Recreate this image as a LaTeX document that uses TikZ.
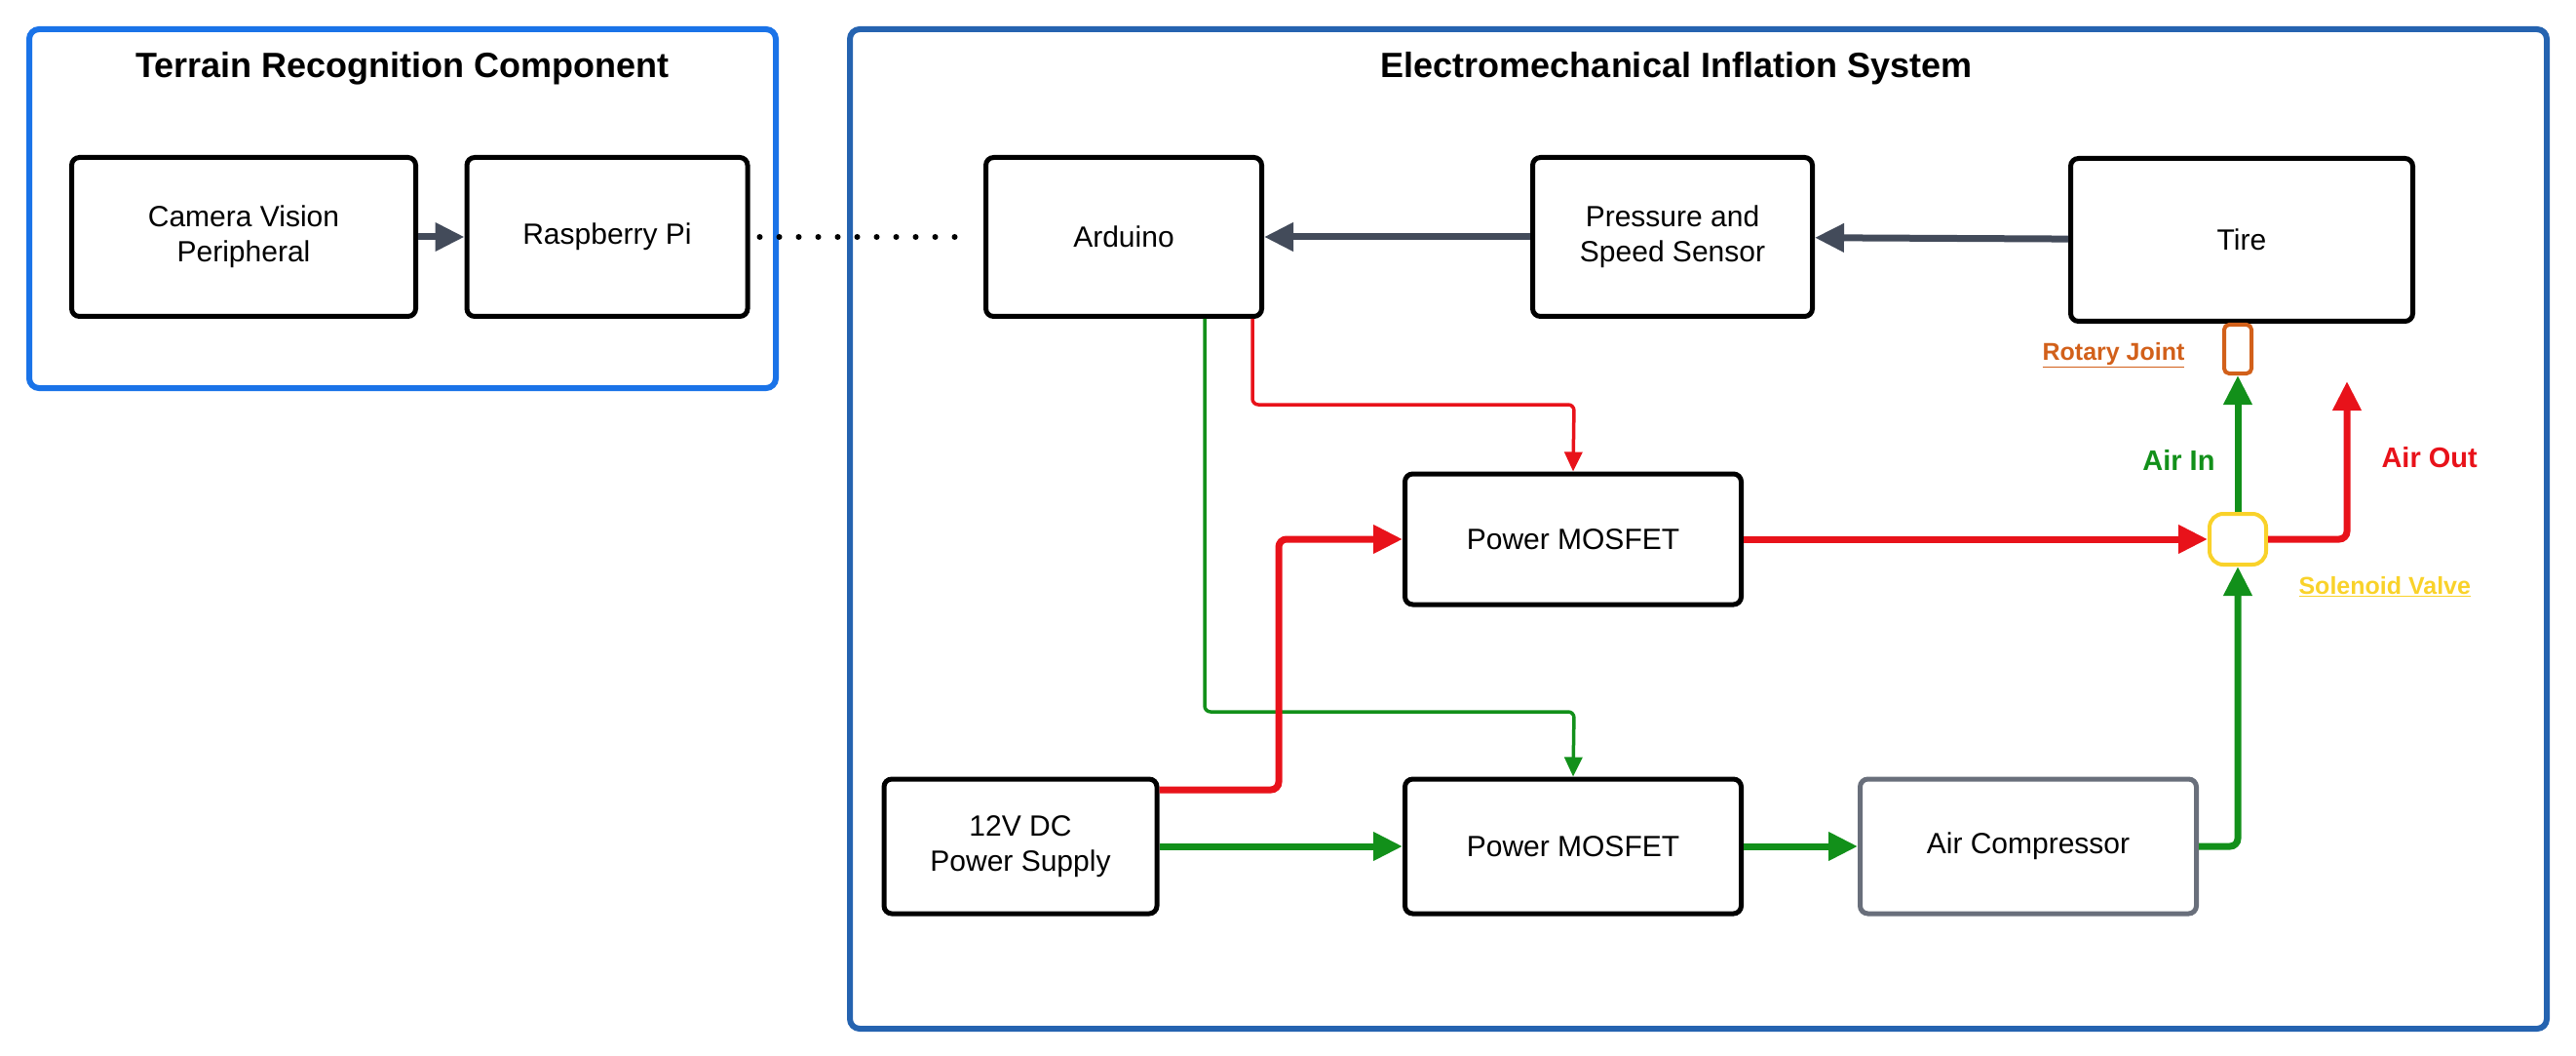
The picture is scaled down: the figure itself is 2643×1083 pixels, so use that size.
\documentclass[tikz,border=0pt]{standalone}
\usepackage{fontspec}
\setmainfont{Liberation Sans}
\usetikzlibrary{arrows.meta}
\definecolor{slate}{HTML}{434B5A}
\definecolor{ared}{HTML}{E8121A}
\definecolor{agreen}{HTML}{12901A}
\definecolor{bluea}{HTML}{1A73E8}
\definecolor{blueb}{HTML}{2563B0}
\definecolor{rj}{HTML}{D2601A}
\definecolor{sv}{HTML}{F9D22A}
\begin{document}
\begin{tikzpicture}[x=1pt,y=-1pt,
  box/.style={draw=black,line width=5pt,rounded corners=8pt,fill=white,align=center,font=\fontsize{30}{36}\selectfont,inner sep=0pt},
  outer/.style={line width=6pt,rounded corners=10pt},
  title/.style={font=\bfseries\fontsize{36}{42}\selectfont},
  garr/.style={draw=slate,line width=7pt,-{Triangle[length=30pt,width=28pt]}},
  ctl/.style={line width=3.5pt,rounded corners=6pt,-{Triangle[length=20pt,width=18pt]}},
  pwr/.style={line width=7pt,rounded corners=8pt,-{Triangle[length=30pt,width=28pt]}},
  lab/.style={font=\bfseries\fontsize{29}{35}\selectfont}]
\useasboundingbox (0,0) rectangle (2643,1083);
\draw[outer,draw=bluea] (30,30) rectangle (796,398);
\draw[outer,draw=blueb] (872,30) rectangle (2613,1055);
\node[title] (t1) at (413,70) {Terrain Recognition Component};
\node[title] (t2) at (1720,70) {Electromechanical Inflation System};
\node[box,minimum width=353pt,minimum height=163pt] (cam) at (250,243) {Camera Vision\\Peripheral};
\node[box,minimum width=288pt,minimum height=163pt] (rpi) at (623,243) {Raspberry Pi};
\node[box,minimum width=283pt,minimum height=163pt] (ard) at (1153,243) {Arduino};
\node[box,minimum width=287pt,minimum height=163pt] (pss) at (1716,243) {Pressure and\\Speed Sensor};
\node[box,minimum width=351pt,minimum height=167pt] (tire) at (2300,246) {Tire};
\node[box,minimum width=345pt,minimum height=134pt] (m1) at (1614,553) {Power MOSFET};
\node[box,minimum width=280pt,minimum height=138pt] (ps) at (1047,868) {12V DC\\Power Supply};
\node[box,minimum width=345pt,minimum height=138pt] (m2) at (1614,868) {Power MOSFET};
\node[box,draw=slate!80,minimum width=345pt,minimum height=138pt] (ac) at (2081,868) {Air Compressor};
\node[draw=rj,line width=4pt,rounded corners=5pt,minimum width=28pt,minimum height=50pt,inner sep=0pt] (rj) at (2296,358) {};
\node[draw=sv,line width=4pt,rounded corners=14pt,minimum width=58pt,minimum height=52pt,inner sep=0pt] (sv) at (2296,553) {};
\node[lab,text=rj,anchor=east,font=\bfseries\fontsize{25}{30}\selectfont] (rjl) at (2245,364) {\underline{Rotary Joint}};
\node[lab,text=sv,anchor=west,font=\bfseries\fontsize{25}{30}\selectfont] (svl) at (2355,602) {\underline{Solenoid Valve}};
\node[lab,text=agreen,anchor=east] (ain) at (2276,472) {Air In};
\node[lab,text=ared,anchor=west] (aout) at (2440,469) {Air Out};
\coordinate (ao) at (2408,391);
\coordinate (d1) at ([xshift=10pt]rpi.east);
\coordinate (d2) at ([xshift=-10pt]ard.west);
% gray arrows
\draw[garr] (cam) -- (rpi);
\draw[garr] (tire) -- (pss);
\draw[garr] (pss) -- (ard);
\draw[line width=6pt,line cap=round,dash pattern=on 0pt off 20pt] (d1) -- (d2);
% thin control lines
\draw[ctl,draw=ared] ([xshift=132pt]ard.south) |- (1615,415) -- (m1.north);
\draw[ctl,draw=agreen] ([xshift=83pt]ard.south) |- (1615,730) -- (m2.north);
% thick power lines
\coordinate (pso) at ([yshift=58pt]ps.east);
\draw[pwr,draw=ared] (pso) -| (1312,553) -- (m1.west);
\draw[pwr,draw=ared] (m1.east) -- (sv.west);
\draw[pwr,draw=ared] (sv.east) -| (ao);
\draw[pwr,draw=agreen] (ps) -- (m2);
\draw[pwr,draw=agreen] (m2) -- (ac);
\draw[pwr,draw=agreen] (ac.east) -| (sv.south);
\draw[pwr,draw=agreen] (sv.north) -- (rj.south);
\end{tikzpicture}
\end{document}
